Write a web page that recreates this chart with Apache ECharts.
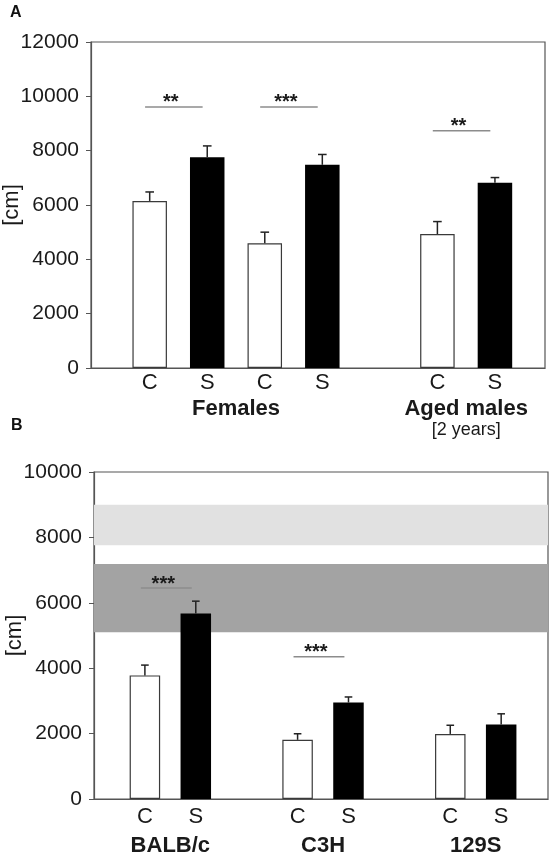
<!DOCTYPE html>
<html>
<head>
<meta charset="utf-8">
<script src="https://cdn.jsdelivr.net/npm/echarts@6/dist/echarts.min.js"></script>
<style>
html,body{margin:0;padding:0;background:#fff;}
#chart{width:552px;height:861px;}
</style>
</head>
<body>
<div id="chart"></div>
<script>
// ---------- Panel A data ----------
const aPos = [0, 1, 2, 3, 5, 6];                 // slot of each bar
const aLabels = ['C', 'S', 'C', 'S', 'C', 'S'];
const aMean = [6150, 7760, 4590, 7480, 4930, 6815];
const aErr = [330, 415, 410, 380, 460, 195];
const aGroupNames = ['Females', 'Aged males'];
const aGroupSub = ['', '[2 years]'];
const aGroupMembers = [[0, 1, 2, 3], [4, 5]];
const aSig = [[0, 1, 9610, '**'], [2, 3, 9610, '***'], [4, 5, 8730, '**']];
const aYTicks = [0, 2000, 4000, 6000, 8000, 10000, 12000];

// ---------- Panel B data ----------
const bPos = [0, 1, 3, 4, 6, 7];
const bLabels = ['C', 'S', 'C', 'S', 'C', 'S'];
const bMean = [3780, 5670, 1810, 2950, 1990, 2280];
const bErr = [315, 380, 185, 170, 265, 325];
const bGroupNames = ['BALB/c', 'C3H', '129S'];
const bGroupMembers = [[0, 1], [2, 3], [4, 5]];
const bSig = [[0, 1, 6450, '***'], [2, 3, 4350, '***']];
const bBands = [[7760, 9000], [5100, 7190]];
const bYTicks = [0, 2000, 4000, 6000, 8000, 10000];

// ---------- helpers ----------
const FONT = 'Liberation Sans, Arial, Helvetica, sans-serif';
const TXT = '#1a1a1a';
const AXIS = '#555';

function groupCenters(pos, members) {
  return members.map(m => m.reduce((s, i) => s + pos[i], 0) / m.length);
}
const aCenters = groupCenters(aPos, aGroupMembers);
const bCenters = groupCenters(bPos, bGroupMembers);

function findIdx(arr, v) {
  for (let i = 0; i < arr.length; i++) if (Math.abs(arr[i] - v) < 1e-6) return i;
  return -1;
}

function barData(pos, labels, mean) {
  return pos.map((p, i) => ({
    value: [p, mean[i]],
    itemStyle: labels[i] === 'C'
      ? { color: '#ffffff', borderColor: '#3a3a3a', borderWidth: 1.2 }
      : { color: '#000000', borderColor: '#000000', borderWidth: 0 }
  }));
}

function errRender(params, api) {
  const x = api.value(0), m = api.value(1), e = api.value(2);
  const p0 = api.coord([x, m]);
  const p1 = api.coord([x, m + e]);
  const hw = api.size([0.075, 0])[0];
  const st = { stroke: '#222', lineWidth: 1.5 };
  return {
    type: 'group',
    children: [
      { type: 'line', shape: { x1: p0[0], y1: p0[1], x2: p1[0], y2: p1[1] }, style: st },
      { type: 'line', shape: { x1: p1[0] - hw, y1: p1[1], x2: p1[0] + hw, y2: p1[1] }, style: st }
    ]
  };
}

function sigSeries(sig, pos, xi, yi) {
  const off = -0.08;
  const texts = sig.map(s => s[3]);
  return {
    type: 'custom', xAxisIndex: xi, yAxisIndex: yi, z: 5, silent: true,
    renderItem: function (params, api) {
      const x1 = api.value(0), x2 = api.value(1), y = api.value(2);
      const p1 = api.coord([x1, y]);
      const p2 = api.coord([x2, y]);
      return {
        type: 'group',
        children: [
          { type: 'line', shape: { x1: p1[0], y1: p1[1], x2: p2[0], y2: p2[1] },
            style: { stroke: '#8c8c8c', lineWidth: 1.5 } },
          { type: 'text', x: (p1[0] + p2[0]) / 2 - 3, y: p1[1] - 4,
            style: { text: texts[params.dataIndex], fill: '#1a1a1a', font: 'bold 20px ' + FONT,
              align: 'center', verticalAlign: 'middle' } }
        ]
      };
    },
    data: sig.map(s => [pos[s[0]] + off, pos[s[1]] + off, s[2]])
  };
}

function yAxis(gi, max, ticks) {
  return {
    type: 'value', gridIndex: gi, min: 0, max: max, interval: 2000,
    name: '[cm]', nameLocation: 'middle', nameGap: 68, nameMoveOverlap: false,
    nameTextStyle: { fontSize: 22, color: TXT, fontFamily: FONT },
    axisLine: { show: true, onZero: false, lineStyle: { color: AXIS, width: 1.2 } },
    axisTick: { show: true, length: 5, inside: false, lineStyle: { color: AXIS } },
    splitLine: { show: false },
    axisLabel: { fontSize: 21, color: TXT, fontFamily: FONT, margin: 12,
      customValues: ticks, formatter: v => String(v) }
  };
}

function xAxisMain(gi, min, max, pos, labels, margin) {
  return {
    type: 'value', gridIndex: gi, min: min, max: max,
    axisLine: { show: true, onZero: false, lineStyle: { color: AXIS, width: 1.2 } },
    axisTick: { show: false },
    splitLine: { show: false },
    axisLabel: { fontSize: 22, color: TXT, fontFamily: FONT, margin: margin,
      customValues: pos, formatter: v => { const i = findIdx(pos, v); return i >= 0 ? labels[i] : ''; } }
  };
}

function xAxisGroup(gi, min, max, centers, names, subs, margin) {
  return {
    type: 'value', gridIndex: gi, min: min, max: max, position: 'bottom',
    axisLine: { show: false, onZero: false }, axisTick: { show: false }, splitLine: { show: false },
    axisLabel: {
      margin: margin, customValues: centers, color: TXT, fontFamily: FONT,
      formatter: v => {
        const i = findIdx(centers, v);
        if (i < 0) return '';
        return (subs && subs[i]) ? '{b|' + names[i] + '}\n{s|' + subs[i] + '}' : '{b|' + names[i] + '}';
      },
      rich: {
        b: { fontSize: 22, fontWeight: 'bold', color: TXT, fontFamily: FONT, lineHeight: 22 },
        s: { fontSize: 18, color: TXT, fontFamily: FONT, lineHeight: 20 }
      }
    }
  };
}

const chart = echarts.init(document.getElementById('chart'), null, { renderer: 'canvas' });

const option = {
  animation: false,
  backgroundColor: '#ffffff',
  textStyle: { fontFamily: FONT },
  grid: [
    { left: 91, right: 7, top: 42, height: 326, show: true, borderColor: AXIS, borderWidth: 1.2,
      backgroundColor: 'transparent', containLabel: false, outerBoundsMode: 'none' },
    { left: 94, right: 4, top: 472, height: 327, show: true, borderColor: AXIS, borderWidth: 1.2,
      backgroundColor: 'transparent', containLabel: false, outerBoundsMode: 'none' }
  ],
  xAxis: [
    xAxisMain(0, -1.02, 6.87, aPos, aLabels, 4),
    xAxisGroup(0, -1.02, 6.87, aCenters, aGroupNames, aGroupSub, 30),
    xAxisMain(1, -1.0, 7.92, bPos, bLabels, 7),
    xAxisGroup(1, -1.0, 7.92, bCenters, bGroupNames, null, 36)
  ],
  yAxis: [
    yAxis(0, 12000, aYTicks),
    yAxis(1, 10000, bYTicks)
  ],
  graphic: [
    { type: 'text', left: 10, top: 5, style: { text: 'A', font: 'bold 16px ' + FONT, fill: '#111' } },
    { type: 'text', left: 11, top: 418, style: { text: 'B', font: 'bold 16px ' + FONT, fill: '#111' } }
  ],
  series: [
    {
      type: 'bar', xAxisIndex: 0, yAxisIndex: 0, barWidth: 34.5, z: 3,
      data: barData(aPos, aLabels, aMean), silent: true
    },
    {
      type: 'custom', xAxisIndex: 0, yAxisIndex: 0, z: 4, renderItem: errRender,
      data: aPos.map((p, i) => [p, aMean[i], aErr[i]]), silent: true
    },
    sigSeries(aSig, aPos, 0, 0),
    {
      type: 'bar', xAxisIndex: 2, yAxisIndex: 1, barWidth: 30.5, z: 3,
      data: barData(bPos, bLabels, bMean), silent: true,
      markArea: {
        silent: true,
        data: [
          [{ yAxis: bBands[0][0], itemStyle: { color: '#e1e1e1' } }, { yAxis: bBands[0][1] }],
          [{ yAxis: bBands[1][0], itemStyle: { color: '#a3a3a3' } }, { yAxis: bBands[1][1] }]
        ]
      }
    },
    {
      type: 'custom', xAxisIndex: 2, yAxisIndex: 1, z: 4, renderItem: errRender,
      data: bPos.map((p, i) => [p, bMean[i], bErr[i]]), silent: true
    },
    sigSeries(bSig, bPos, 2, 1)
  ]
};
chart.setOption(option);
</script>
</body>
</html>
